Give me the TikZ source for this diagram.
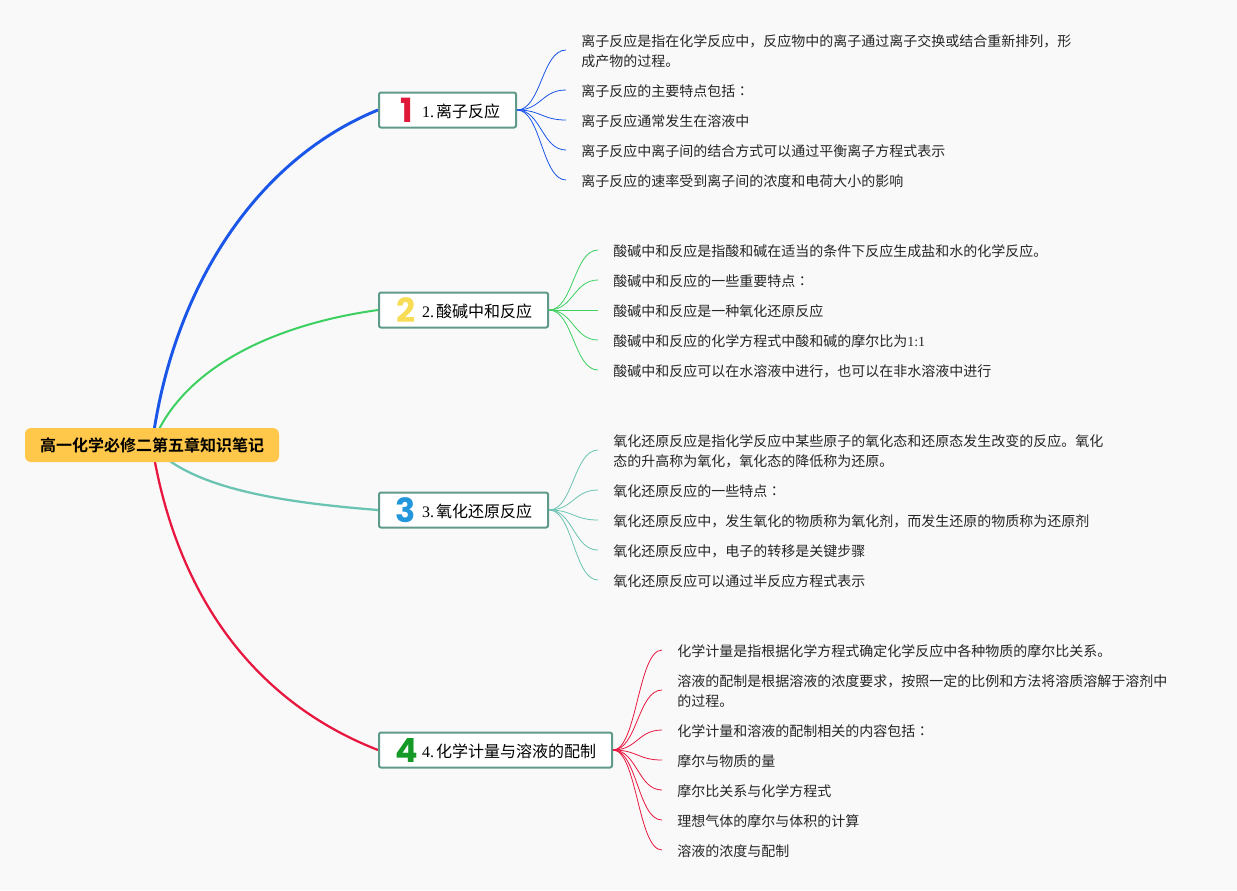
\documentclass[tikz,border=0pt]{standalone}
\usepackage{fontspec}
\setmainfont{Liberation Serif}
\newfontfamily\cjk[BoldFont={Noto Sans CJK SC Bold}]{Noto Sans CJK SC}
\newfontfamily\cjkcolon{Noto Sans CJK TC}
\newfontfamily\iconfont[BoldFont={Poppins Bold}]{Poppins}
\usetikzlibrary{backgrounds}
\definecolor{paper}{HTML}{F9F9FA}
\definecolor{rootfill}{HTML}{FFC84A}
\definecolor{boxline}{HTML}{5F9A8A}
\definecolor{leafink}{HTML}{262626}
\definecolor{blueline}{HTML}{1A56E8}
\definecolor{greenline}{HTML}{3CD060}
\definecolor{tealline}{HTML}{6BC4B2}
\definecolor{redline}{HTML}{E8173F}
\definecolor{iconred}{HTML}{E0183A}
\definecolor{iconyellow}{HTML}{F7DC55}
\definecolor{iconblue}{HTML}{2496DC}
\definecolor{icongreen}{HTML}{159A28}
\def\px{0.75pt}
\newcommand{\lat}[1]{{\rmfamily #1\hspace{1.5pt}}}
\newcommand{\colonmark}{{\cjkcolon ：}}

\begin{document}
\begin{tikzpicture}[x = 0.75pt, y = -0.75pt,
    rootnode/.style = {rectangle, rounded corners = 4.5pt, fill = rootfill, text = black,
        minimum width = 254*\px, minimum height = 34*\px, inner sep = 0pt,
        text height = 11.5pt, text depth = 1.6pt,
        font = \cjk\bfseries\fontsize{12}{15}\selectfont},
    branchnode/.style = {rectangle, rounded corners = 1.5pt, draw = boxline, line width = 1.5pt,
        fill = white, text = black, anchor = east, align = right, minimum height = 35*\px,
        inner ysep = 0pt, inner xsep = 16*\px, text height = 12.5pt, text depth = 1.6pt,
        font = \cjk\fontsize{12}{15}\selectfont},
    iconnode/.style = {inner sep = 0pt, font = \iconfont\bfseries\fontsize{25}{25}\selectfont},
    leafnode/.style = {anchor = west, align = left, inner xsep = 15*\px, inner ysep = 0pt,
        text = leafink, font = \cjk\fontsize{10.5}{15}\selectfont},
    leafline/.style = {line width = 0.6pt}]

    \useasboundingbox (0,0) rectangle (1237,890);

    % centre
    \node[rootnode] (root) at (152,445) {高一化学必修二第五章知识笔记};

    % branches
    \node[branchnode, text width = 105*\px] (b1) at (517,110) {\lat{1.}离子反应};
    \node[branchnode, text width = 137*\px] (b2) at (549,310) {\lat{2.}酸碱中和反应};
    \node[branchnode, text width = 137*\px] (b3) at (549,510) {\lat{3.}氧化还原反应};
    \node[branchnode, text width = 201*\px] (b4) at (613,750) {\lat{4.}化学计量与溶液的配制};

    % icons
    \node[iconnode, text = iconred] (i1) at (407,110) {1};
    \node[iconnode, text = iconyellow] (i2) at (406,310) {2};
    \node[iconnode, text = iconblue] (i3) at (406,510) {3};
    \node[iconnode, text = icongreen] (i4) at (407,750) {4};

    % leaves of 1
    \node[leafnode] (a1) at (566,51.5) {离子反应是指在化学反应中，反应物中的离子通过离子交换或结合重新排列，形\\成产物的过程。};
    \node[leafnode] (a2) at (566,91.5) {离子反应的主要特点包括\colonmark};
    \node[leafnode] (a3) at (566,121.5) {离子反应通常发生在溶液中};
    \node[leafnode] (a4) at (566,151.5) {离子反应中离子间的结合方式可以通过平衡离子方程式表示};
    \node[leafnode] (a5) at (566,181.5) {离子反应的速率受到离子间的浓度和电荷大小的影响};

    % leaves of 2
    \node[leafnode] (c1) at (598,251.5) {酸碱中和反应是指酸和碱在适当的条件下反应生成盐和水的化学反应。};
    \node[leafnode] (c2) at (598,281.5) {酸碱中和反应的一些重要特点\colonmark};
    \node[leafnode] (c3) at (598,311.5) {酸碱中和反应是一种氧化还原反应};
    \node[leafnode] (c4) at (598,341.5) {酸碱中和反应的化学方程式中酸和碱的摩尔比为{\rmfamily 1:1}};
    \node[leafnode] (c5) at (598,371.5) {酸碱中和反应可以在水溶液中进行，也可以在非水溶液中进行};

    % leaves of 3
    \node[leafnode] (d1) at (598,451.5) {氧化还原反应是指化学反应中某些原子的氧化态和还原态发生改变的反应。氧化\\态的升高称为氧化，氧化态的降低称为还原。};
    \node[leafnode] (d2) at (598,491.5) {氧化还原反应的一些特点\colonmark};
    \node[leafnode] (d3) at (598,521.5) {氧化还原反应中，发生氧化的物质称为氧化剂，而发生还原的物质称为还原剂};
    \node[leafnode] (d4) at (598,551.5) {氧化还原反应中，电子的转移是关键步骤};
    \node[leafnode] (d5) at (598,581.5) {氧化还原反应可以通过半反应方程式表示};

    % leaves of 4
    \node[leafnode] (e1) at (662,651.5) {化学计量是指根据化学方程式确定化学反应中各种物质的摩尔比关系。};
    \node[leafnode] (e2) at (662,691.5) {溶液的配制是根据溶液的浓度要求，按照一定的比例和方法将溶质溶解于溶剂中\\的过程。};
    \node[leafnode] (e3) at (662,731.5) {化学计量和溶液的配制相关的内容包括\colonmark};
    \node[leafnode] (e4) at (662,761.5) {摩尔与物质的量};
    \node[leafnode] (e5) at (662,791.5) {摩尔比关系与化学方程式};
    \node[leafnode] (e6) at (662,821.5) {理想气体的摩尔与体积的计算};
    \node[leafnode] (e7) at (662,851.5) {溶液的浓度与配制};

    % connectors
    \begin{scope}[on background layer]
        \fill[paper] (0,0) rectangle (1237,890);
        \draw[line width = 2.2pt, blueline] (root.center) .. controls (172,290) and (255,160) .. (b1.west);
        \draw[line width = 1.5pt, greenline] (root.center) .. controls (180,370) and (270,325) .. (b2.west);
        \draw[line width = 1.7pt, tealline] (root.center) .. controls (190,490) and (290,503) .. (b3.west);
        \draw[line width = 1.7pt, redline] (root.center) .. controls (175,590) and (250,700) .. (b4.west);
    \end{scope}
    \foreach \leaf in {a1,a2,a3,a4,a5}
        \draw[leafline, blueline] (b1.east) .. controls +(24,0) and ([xshift = -24*\px, yshift = 1.125pt]\leaf.west) .. ([yshift = 1.125pt]\leaf.west);
    \foreach \leaf in {c1,c2,c3,c4,c5}
        \draw[leafline, greenline] (b2.east) .. controls +(24,0) and ([xshift = -24*\px, yshift = 1.125pt]\leaf.west) .. ([yshift = 1.125pt]\leaf.west);
    \foreach \leaf in {d1,d2,d3,d4,d5}
        \draw[leafline, tealline] (b3.east) .. controls +(24,0) and ([xshift = -24*\px, yshift = 1.125pt]\leaf.west) .. ([yshift = 1.125pt]\leaf.west);
    \foreach \leaf in {e1,e2,e3,e4,e5,e6,e7}
        \draw[leafline, redline] (b4.east) .. controls +(24,0) and ([xshift = -24*\px, yshift = 1.125pt]\leaf.west) .. ([yshift = 1.125pt]\leaf.west);
\end{tikzpicture}
\end{document}
